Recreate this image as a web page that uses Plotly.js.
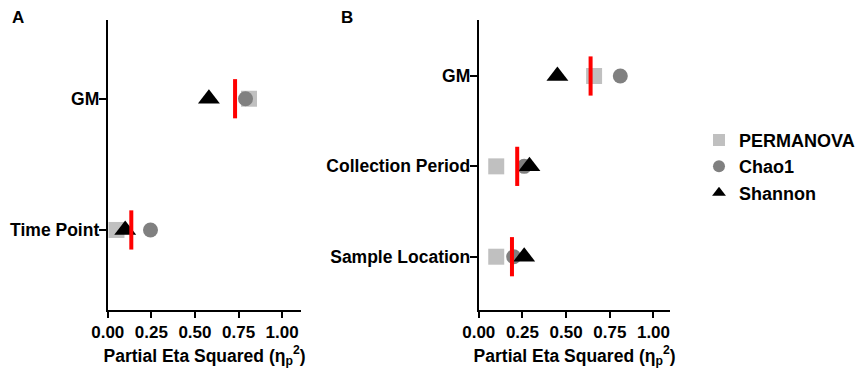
<!DOCTYPE html>
<html>
<head>
<meta charset="utf-8">
<script src="https://cdn.plot.ly/plotly-3.0.1.min.js"></script>
<style>html,body{margin:0;padding:0;background:#fff;} #chart{width:860px;height:371px;}</style>
</head>
<body>
<div id="chart"></div>
<script>
// Panel A
const catsA = ['GM', 'Time Point'];
const permA = [0.81, 0.05];
const chaoA = [0.79, 0.245];
const shanA = [0.58, 0.10];
const meanA = [0.73, 0.135];
// Panel B
const catsB = ['GM', 'Collection Period', 'Sample Location'];
const permB = [0.66, 0.10, 0.10];
const chaoB = [0.81, 0.26, 0.20];
const shanB = [0.45, 0.29, 0.26];
const meanB = [0.64, 0.22, 0.19];
const xTicks = [0, 0.25, 0.5, 0.75, 1.0];
const xTickText = ['0.00', '0.25', '0.50', '0.75', '1.00'];

const FONT = 'Liberation Sans, Arial, sans-serif';

function traces(cats, perm, chao, shan, mean, xa, ya, showLegend) {
  return [
    {x: perm, y: cats, xaxis: xa, yaxis: ya, type: 'scatter', mode: 'markers', name: 'PERMANOVA',
     showlegend: showLegend, legendgroup: 'p', cliponaxis: false,
     marker: {symbol: 'square', size: 16, color: '#c0c0c0'}},
    {x: chao, y: cats, xaxis: xa, yaxis: ya, type: 'scatter', mode: 'markers', name: 'Chao1',
     showlegend: showLegend, legendgroup: 'c', cliponaxis: false,
     marker: {symbol: 'circle', size: 15, color: '#808080'}},
    {x: shan, y: cats, xaxis: xa, yaxis: ya, type: 'scatter', mode: 'markers', name: 'Shannon',
     showlegend: showLegend, legendgroup: 's', cliponaxis: false,
     marker: {symbol: 'triangle-up', size: 19, color: '#000000'}},
    {x: mean, y: cats, xaxis: xa, yaxis: ya, type: 'scatter', mode: 'markers', name: 'mean',
     showlegend: false, cliponaxis: false,
     marker: {symbol: 'line-ns-open', size: 28, color: '#ff0000', line: {color: '#ff0000', width: 4}}}
  ];
}

const data = [].concat(
  traces(catsA, permA, chaoA, shanA, meanA, 'x', 'y', true),
  traces(catsB, permB, chaoB, shanB, meanB, 'x2', 'y2', false)
);

const xCommon = {
  range: [0, 1.11], tickvals: xTicks, ticktext: xTickText,
  showline: true, linecolor: '#000', linewidth: 2,
  ticks: 'outside', ticklen: 6, tickwidth: 2, tickcolor: '#000',
  showgrid: false, zeroline: false,
  tickfont: {family: FONT, size: 17, color: '#000', weight: 'bold'},
  title: {text: 'Partial Eta Squared (η<sub>p</sub><sup>2</sup>)', standoff: 8,
          font: {family: FONT, size: 17.5, color: '#000', weight: 'bold'}}
};
const yCommon = {
  type: 'category',
  showline: true, linecolor: '#000', linewidth: 2,
  ticks: 'outside', ticklen: 7, tickwidth: 2, tickcolor: '#000',
  ticklabelstandoff: -4,
  showgrid: false, zeroline: false,
  tickfont: {family: FONT, size: 17.5, color: '#000', weight: 'bold'}
};

const layout = {
  width: 860, height: 371,
  margin: {l: 0, r: 0, t: 0, b: 0},
  paper_bgcolor: '#fff', plot_bgcolor: '#fff',
  showlegend: true,
  legend: {x: 0.815, y: 0.672, xanchor: 'left', yanchor: 'top',
           font: {family: FONT, size: 18, color: '#000', weight: 'bold'},
           itemsizing: 'constant', tracegroupgap: 0, bgcolor: 'rgba(0,0,0,0)'},
  xaxis: Object.assign({}, xCommon, {domain: [0.1256, 0.3512], anchor: 'y'}),
  xaxis2: Object.assign({}, xCommon, {domain: [0.558, 0.7814], range: [0, 1.097], anchor: 'y2'}),
  yaxis: Object.assign({}, yCommon, {domain: [0.1644, 0.9461], anchor: 'x',
           categoryarray: ['Time Point', 'GM'], categoryorder: 'array', range: [-0.61, 1.6]}),
  yaxis2: Object.assign({}, yCommon, {domain: [0.1644, 0.9461], anchor: 'x2',
           categoryarray: ['Sample Location', 'Collection Period', 'GM'], categoryorder: 'array', range: [-0.59, 2.62]}),
  annotations: [
    {text: 'A', x: 18 / 860, y: 1 - 18 / 371, xref: 'paper', yref: 'paper', showarrow: false,
     xanchor: 'center', yanchor: 'middle',
     font: {family: FONT, size: 17, color: '#000', weight: 'bold'}},
    {text: 'B', x: 348 / 860, y: 1 - 18 / 371, xref: 'paper', yref: 'paper', showarrow: false,
     xanchor: 'center', yanchor: 'middle',
     font: {family: FONT, size: 17, color: '#000', weight: 'bold'}}
  ]
};

Plotly.newPlot('chart', data, layout, {displayModeBar: false, staticPlot: true});
</script>
</body>
</html>
